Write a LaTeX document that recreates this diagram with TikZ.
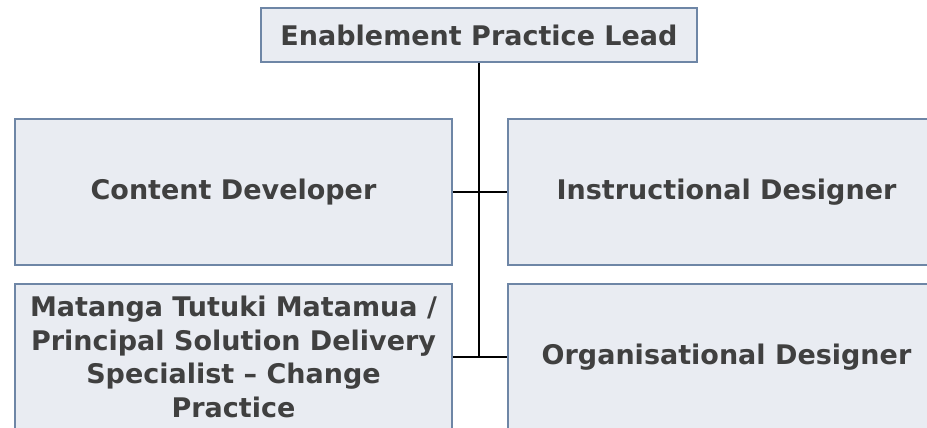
\documentclass[tikz,border=0pt]{standalone}
\usepackage{fontspec}
\setmainfont{DejaVu Sans}
\definecolor{boxfill}{HTML}{E9ECF2}
\definecolor{boxline}{HTML}{6E86A6}
\definecolor{txt}{HTML}{404040}
\begin{document}
\begin{tikzpicture}[x=1pt,y=1pt,
  rolebox/.style={draw=boxline,line width=1.5pt,fill=boxfill,text=txt,
    font=\fontsize{27}{33.5}\selectfont\bfseries,align=center,
    minimum width=437pt,minimum height=146pt,inner sep=0pt},
  link/.style={draw=black,line width=2pt}]
\useasboundingbox (0,0) rectangle (927,428);
\clip (0,0) rectangle (927,428);
\node[rolebox,minimum width=436pt,minimum height=54pt] (lead) at (479,393) {Enablement Practice Lead};
\node[rolebox] (cd) at (233.5,236) {Content Developer};
\node[rolebox] (id) at (726.5,236) {Instructional Designer};
\node[rolebox] (mt) at (233.5,71) {Matanga Tutuki Matamua /\\Principal Solution Delivery\\Specialist – Change\\Practice};
\node[rolebox] (od) at (726.5,71) {Organisational Designer};
\draw[link] (lead.south) -- (lead.south |- mt.east);
\draw[link] (cd.east) -- (id.west);
\draw[link] (mt.east) -- (od.west);
\end{tikzpicture}
\end{document}
